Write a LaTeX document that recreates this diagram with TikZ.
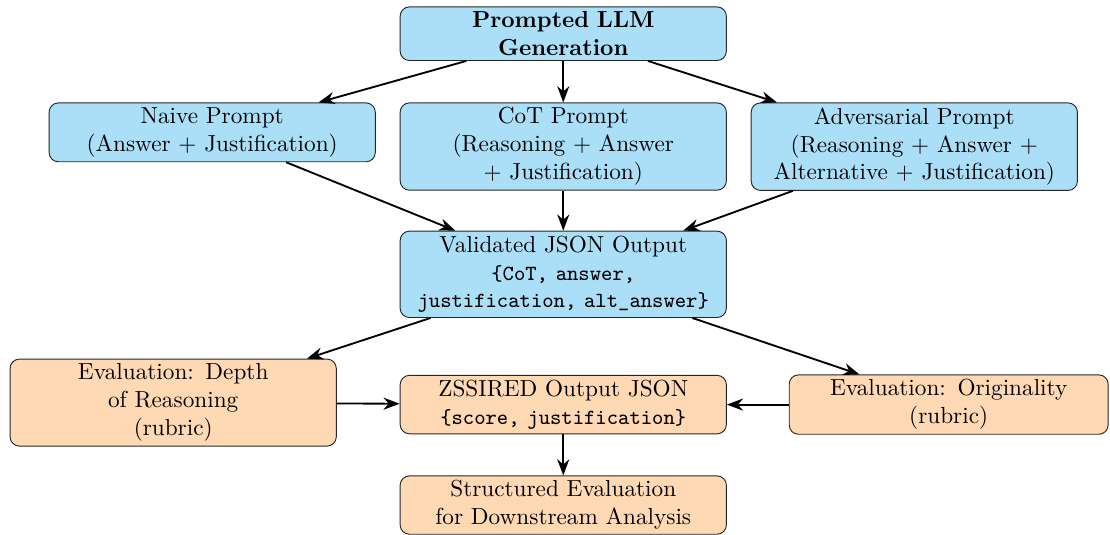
\documentclass[tikz,border=0pt]{standalone}
\usepackage{tikz}
\usetikzlibrary{arrows.meta}
\definecolor{promptblue}{HTML}{ABDFF8}
\definecolor{evalorange}{HTML}{FFD9B3}
\newcommand{\jsonkeys}[1]{{\fontsize{9.3pt}{12pt}\selectfont\ttfamily #1}}
\tikzset{
    box/.style={rectangle, rounded corners=4pt, draw=black!85, text width=4.70cm, align=center, inner ysep=2pt},
    genbox/.style={box, fill=promptblue},
    evalbox/.style={box, fill=evalorange}
}
\tikzset{flow/.style={thick, -{Stealth[length=7pt, width=5.2pt]}}}

\begin{document}
\begin{tikzpicture}
    \useasboundingbox (0cm, 0cm) rectangle (16.79cm, 8.09cm);

    \node (gen) at (8.52cm, 7.58cm) [genbox, font=\bfseries] {Prompted LLM\\ Generation};

    \node (naive) at (3.21cm, 6.54cm) [genbox, anchor=north] {Naive Prompt\\ (Answer + Justification)};
    \node (cot) at (8.52cm, 6.54cm) [genbox, anchor=north] {CoT Prompt\\ (Reasoning + Answer\\ + Justification)};
    \node (adv) at (13.83cm, 6.54cm) [genbox, anchor=north] {Adversarial Prompt\\ (Reasoning + Answer +\\ Alternative + Justification)};

    \node (json) at (8.52cm, 3.94cm) [genbox] {Validated JSON Output\\ \jsonkeys{\{CoT, answer,}\\ \jsonkeys{justification, alt\_answer\}}};

    \node (depth) at (2.62cm, 2.00cm) [evalbox] {Evaluation: Depth\\ of Reasoning\\ (rubric)};
    \node (zssired) at (8.52cm, 1.97cm) [evalbox] {ZSSIRED Output JSON\\ \jsonkeys{\{score, justification\}}};
    \node (orig) at (14.35cm, 1.97cm) [evalbox, text width=4.59cm] {Evaluation: Originality\\ (rubric)};

    \node (final) at (8.52cm, 0.45cm) [evalbox] {Structured Evaluation\\ for Downstream Analysis};

    \draw (gen) edge [flow] (naive);
    \draw (gen) edge [flow] (cot);
    \draw (gen) edge [flow] (adv);
    \draw (naive) edge [flow] (json);
    \draw (cot) edge [flow] (json);
    \draw (adv) edge [flow] (json);
    \draw (json) edge [flow] (depth);
    \draw (json) edge [flow] (orig);
    \draw (depth) edge [flow] (zssired);
    \draw (orig) edge [flow] (zssired);
    \draw (zssired) edge [flow] (final);
\end{tikzpicture}
\end{document}
